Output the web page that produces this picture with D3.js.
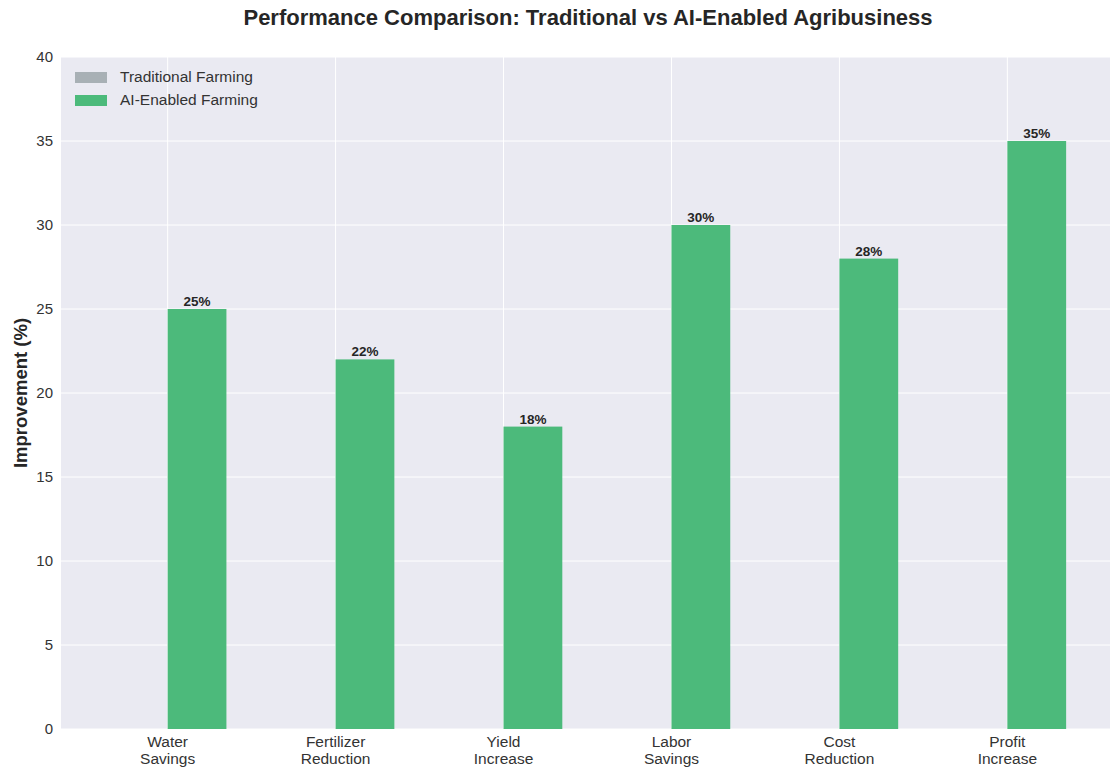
<!DOCTYPE html>
<html>
<head>
<meta charset="utf-8">
<script src="https://cdn.jsdelivr.net/npm/d3@7"></script>
<style>
  body { margin: 0; background: #fff; }
  text { font-family: "Liberation Sans", Arial, sans-serif; }
</style>
</head>
<body>
<div id="chart"></div>
<script>
var width = 1110,
    height = 769;

var categories = [["Water", "Savings"], ["Fertilizer", "Reduction"], ["Yield", "Increase"],
                  ["Labor", "Savings"], ["Cost", "Reduction"], ["Profit", "Increase"]];
var traditional = [0, 0, 0, 0, 0, 0];
var aiEnabled = [25, 22, 18, 30, 28, 35];
var yTicks = [0, 5, 10, 15, 20, 25, 30, 35, 40];
var seriesNames = ["Traditional Farming", "AI-Enabled Farming"];
var seriesColors = ["#a8b0b5", "#4cba7b"];

var barW = 0.35;
var plotLeft = 61, plotTop = 57, plotBottom = 729;

var x = d3.scaleLinear().domain([-0.635, 5.635]).range([plotLeft, plotLeft + 1053]);
var y = d3.scaleLinear().domain([0, 40]).range([plotBottom, plotTop]);

var svg = d3.select("#chart").append("svg")
    .attr("width", width)
    .attr("height", height);

svg.append("rect")
    .attr("x", plotLeft).attr("y", plotTop)
    .attr("width", width - plotLeft).attr("height", plotBottom - plotTop)
    .style("fill", "#eaeaf2");

// grid
svg.selectAll(".hgrid").data(yTicks).enter().append("line")
    .attr("x1", plotLeft).attr("x2", width)
    .attr("y1", function (d) { return y(d); })
    .attr("y2", function (d) { return y(d); })
    .style("stroke", "#fff").style("stroke-width", 1);

svg.selectAll(".vgrid").data(categories).enter().append("line")
    .attr("x1", function (d, i) { return x(i); })
    .attr("x2", function (d, i) { return x(i); })
    .attr("y1", plotTop).attr("y2", plotBottom)
    .style("stroke", "#fff").style("stroke-width", 1);

// bars
svg.selectAll(".trad").data(traditional).enter().append("rect")
    .attr("x", function (d, i) { return x(i - barW); })
    .attr("y", function (d) { return y(d); })
    .attr("width", x(barW) - x(0))
    .attr("height", function (d) { return y(0) - y(d); })
    .style("fill", seriesColors[0]);

svg.selectAll(".ai").data(aiEnabled).enter().append("rect")
    .attr("x", function (d, i) { return x(i); })
    .attr("y", function (d) { return y(d); })
    .attr("width", x(barW) - x(0))
    .attr("height", function (d) { return y(0) - y(d); })
    .style("fill", seriesColors[1]);

svg.selectAll(".val").data(aiEnabled).enter().append("text")
    .attr("x", function (d, i) { return x(i + barW / 2); })
    .attr("y", function (d) { return y(d) - 3; })
    .attr("text-anchor", "middle")
    .attr("font-size", 13.5)
    .attr("font-weight", "bold")
    .style("fill", "#262626")
    .text(function (d) { return d + "%"; });

// y axis labels
svg.selectAll(".ytick").data(yTicks).enter().append("text")
    .attr("x", plotLeft - 8)
    .attr("y", function (d) { return y(d); })
    .attr("dy", "0.35em")
    .attr("text-anchor", "end")
    .attr("font-size", 15)
    .style("fill", "#333")
    .text(function (d) { return d; });

// x axis labels
categories.forEach(function (c, i) {
    var t = svg.append("text")
        .attr("x", x(i))
        .attr("y", 747)
        .attr("text-anchor", "middle")
        .attr("font-size", 15.5)
        .style("fill", "#333");
    c.forEach(function (line, j) {
        t.append("tspan").attr("x", x(i)).attr("dy", j === 0 ? 0 : 17).text(line);
    });
});

svg.append("text")
    .attr("transform", "translate(27," + (plotTop + plotBottom) / 2 + ") rotate(-90)")
    .attr("text-anchor", "middle")
    .attr("font-size", 18.5)
    .attr("font-weight", "bold")
    .style("fill", "#262626")
    .text("Improvement (%)");

svg.append("text")
    .attr("x", 588).attr("y", 25)
    .attr("text-anchor", "middle")
    .attr("font-size", 22)
    .attr("font-weight", "bold")
    .style("fill", "#262626")
    .text("Performance Comparison: Traditional vs AI-Enabled Agribusiness");

// legend
var legend = svg.selectAll(".legend").data(seriesNames).enter().append("g")
    .attr("transform", function (d, i) { return "translate(75," + (77 + i * 23) + ")"; });
legend.append("rect")
    .attr("x", 0).attr("y", -5).attr("width", 32).attr("height", 11)
    .style("fill", function (d, i) { return seriesColors[i]; });
legend.append("text")
    .attr("x", 45).attr("y", 0).attr("dy", "0.35em")
    .attr("font-size", 15.5)
    .style("fill", "#333")
    .text(function (d) { return d; });
</script>
</body>
</html>
